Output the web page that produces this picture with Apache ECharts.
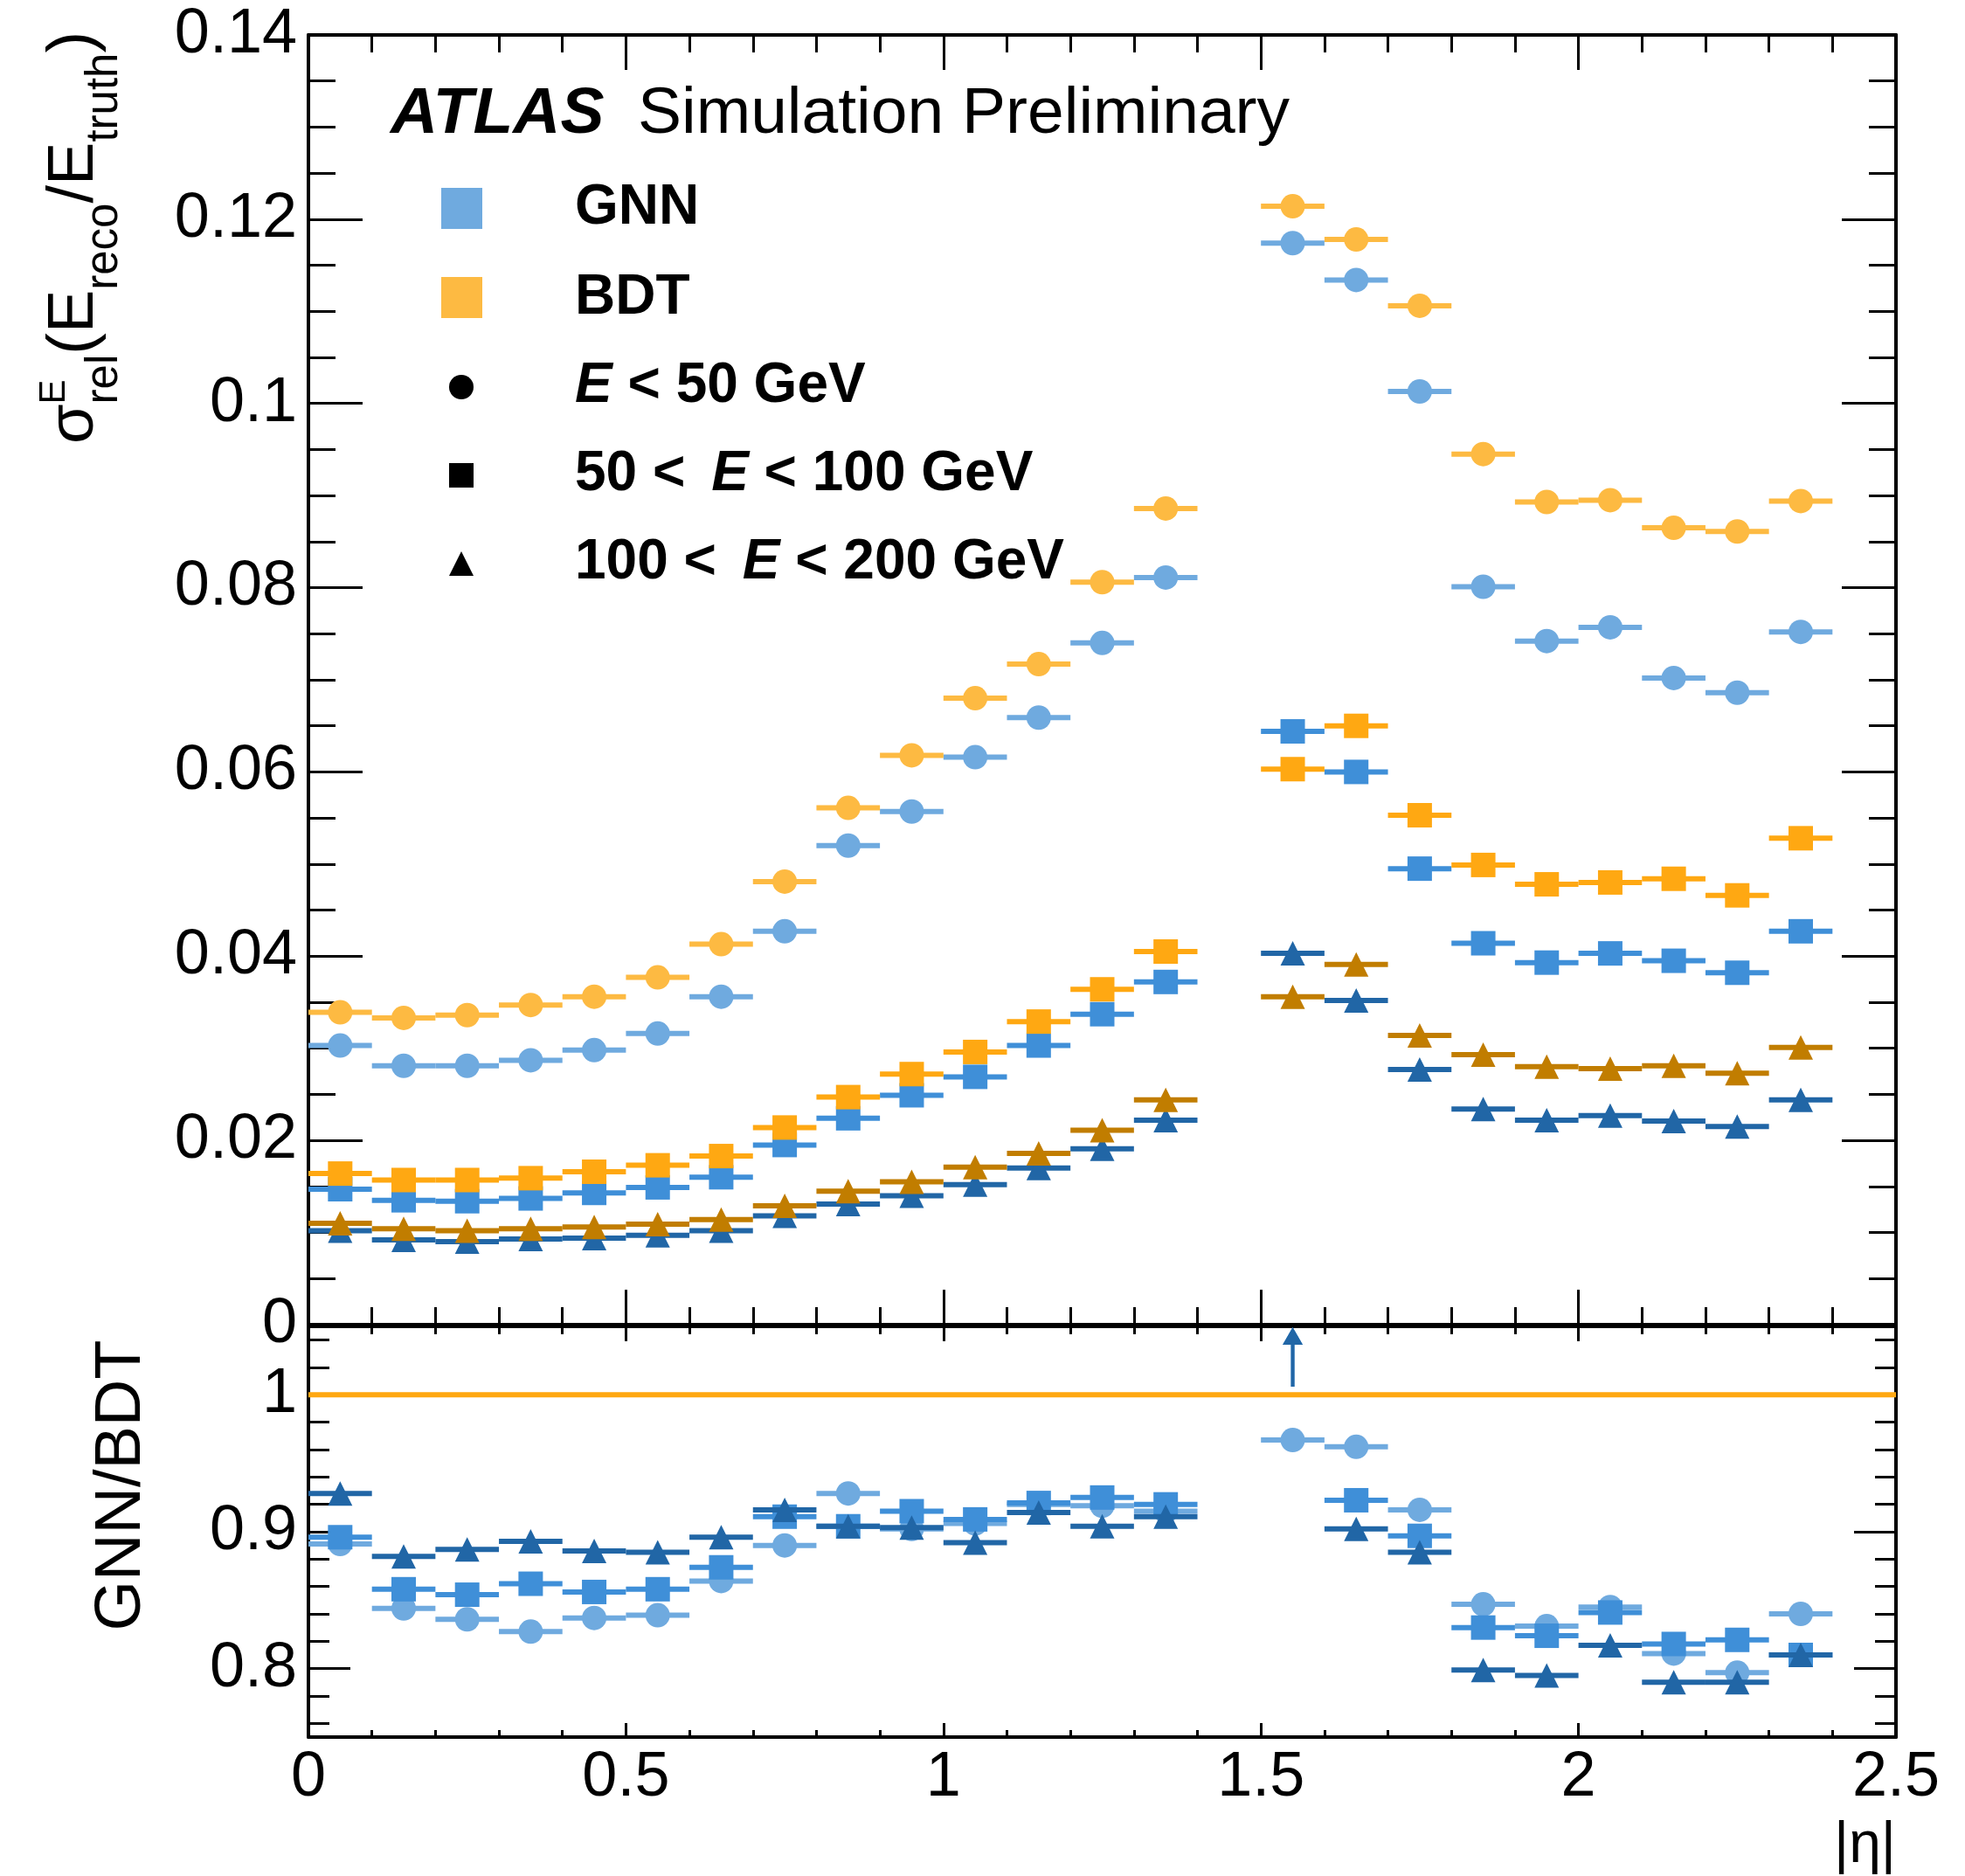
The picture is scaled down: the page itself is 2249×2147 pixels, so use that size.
<!DOCTYPE html>
<html>
<head>
<meta charset="utf-8">
<script src="https://cdn.jsdelivr.net/npm/echarts@6/dist/echarts.min.js"></script>
<style>
html, body { margin: 0; padding: 0; background: #ffffff; }
#chart { width: 2249px; height: 2147px; }
</style>
</head>
<body>
<div id="chart"></div>
<script>
// |eta| bin centres; bins are 0.1 wide and the 1.4-1.5 crack bin is empty
const etaCenters = [0.05, 0.15, 0.25, 0.35, 0.45, 0.55, 0.65, 0.75, 0.85, 0.95, 1.05, 1.15, 1.25, 1.35,
                    1.55, 1.65, 1.75, 1.85, 1.95, 2.05, 2.15, 2.25, 2.35];
const binHalfWidth = 0.05;

// relative energy resolution, E < 50 GeV
const gnnLowE = [0.0303, 0.0281, 0.0281, 0.0287, 0.0298, 0.0316, 0.0356, 0.0427, 0.0520, 0.0557, 0.0616, 0.0659, 0.0740, 0.0811,
                 0.1174, 0.1134, 0.1013, 0.0801, 0.0742, 0.0757, 0.0702, 0.0686, 0.0752];
const bdtLowE = [0.0339, 0.0333, 0.0336, 0.0347, 0.0356, 0.0377, 0.0413, 0.0481, 0.0561, 0.0618, 0.0680, 0.0717, 0.0806, 0.0886,
                 0.1214, 0.1178, 0.1106, 0.0945, 0.0893, 0.0895, 0.0865, 0.0861, 0.0894];
// 50 < E < 100 GeV
const gnnMidE = [0.0147, 0.0135, 0.0134, 0.0137, 0.0143, 0.0149, 0.0160, 0.0195, 0.0224, 0.0249, 0.0269, 0.0303, 0.0337, 0.0372,
                 0.0644, 0.0600, 0.0495, 0.0414, 0.0393, 0.0403, 0.0395, 0.0382, 0.0427];
const bdtMidE = [0.0164, 0.0157, 0.0157, 0.0159, 0.0166, 0.0173, 0.0183, 0.0214, 0.0247, 0.0272, 0.0296, 0.0329, 0.0364, 0.0405,
                 0.0603, 0.0650, 0.0553, 0.0499, 0.0478, 0.0480, 0.0484, 0.0466, 0.0528];
// 100 < E < 200 GeV
const gnnHighE = [0.0102, 0.0092, 0.0090, 0.0093, 0.0094, 0.0097, 0.0102, 0.0118, 0.0131, 0.0140, 0.0152, 0.0170, 0.0191, 0.0222,
                  0.0403, 0.0352, 0.0277, 0.0234, 0.0222, 0.0227, 0.0221, 0.0215, 0.0244];
const bdtHighE = [0.0110, 0.0104, 0.0102, 0.0104, 0.0106, 0.0109, 0.0114, 0.0129, 0.0145, 0.0155, 0.0171, 0.0186, 0.0211, 0.0244,
                  0.0356, 0.0391, 0.0314, 0.0293, 0.0280, 0.0278, 0.0281, 0.0273, 0.0301];

// GNN/BDT ratios (values above the panel range are shown as arrows)
const ratioLowE  = [0.891, 0.844, 0.836, 0.827, 0.837, 0.839, 0.864, 0.890, 0.928, 0.902, 0.906, 0.920, 0.919, 0.915,
                    0.967, 0.962, 0.916, 0.847, 0.831, 0.845, 0.811, 0.797, 0.840];
const ratioMidE  = [0.896, 0.858, 0.854, 0.862, 0.856, 0.858, 0.874, 0.911, 0.904, 0.915, 0.909, 0.921, 0.925, 0.920,
                    1.068, 0.923, 0.897, 0.830, 0.824, 0.841, 0.818, 0.821, 0.810];
const ratioHighE = [0.928, 0.882, 0.887, 0.893, 0.886, 0.885, 0.896, 0.916, 0.904, 0.903, 0.892, 0.914, 0.904, 0.911,
                    1.133, 0.902, 0.885, 0.799, 0.795, 0.817, 0.790, 0.790, 0.810];
const ratioReference = 1;

// axis ranges
const etaRange = [0, 2.5];
const resRange = [0, 0.14];
const ratioRange = [0.75, 1.05];

const COLORS = {
  gnnLow: '#6FAADF', gnnMid: '#3F8FD8', gnnHigh: '#2166A6',
  bdtLow: '#FDBA42', bdtMid: '#FFA812', bdtHigh: '#C17D00',
  ratioLine: '#FFA812'
};
const FONT = '"Liberation Sans", Arial, Helvetica, sans-serif';

function toPoints(values) {
  return etaCenters.map((e, i) => [e, values[i]]).filter(d => d[1] !== null && d[1] !== undefined);
}

// marker with a horizontal bar spanning the bin; arrow when the value exceeds yMax
function pointRenderer(shape, color, yMax) {
  return function (params, api) {
    const x = api.value(0), y = api.value(1);
    if (yMax !== undefined && y > yMax) {
      const top = api.coord([x, yMax]);
      const cx = top[0], ty = top[1] + 1;
      return {
        type: 'group',
        children: [
          { type: 'line', shape: { x1: cx, y1: ty + 16, x2: cx, y2: ty + 68 }, style: { stroke: color, lineWidth: 4 } },
          { type: 'polygon', shape: { points: [[cx, ty], [cx - 11.5, ty + 20], [cx + 11.5, ty + 20]] }, style: { fill: color } }
        ]
      };
    }
    const lo = api.coord([x - binHalfWidth, y]);
    const hi = api.coord([x + binHalfWidth, y]);
    const c = api.coord([x, y]);
    const s = 14;
    const children = [
      { type: 'line', shape: { x1: lo[0], y1: lo[1], x2: hi[0], y2: hi[1] }, style: { stroke: color, lineWidth: 6 } }
    ];
    if (shape === 'circle') {
      children.push({ type: 'circle', shape: { cx: c[0], cy: c[1], r: s }, style: { fill: color } });
    } else if (shape === 'square') {
      children.push({ type: 'rect', shape: { x: c[0] - s, y: c[1] - s, width: 2 * s, height: 2 * s }, style: { fill: color } });
    } else {
      children.push({ type: 'polygon', shape: { points: [[c[0], c[1] - s], [c[0] - s, c[1] + s], [c[0] + s, c[1] + s]] }, style: { fill: color } });
    }
    return { type: 'group', children: children };
  };
}

function pointSeries(values, shape, color, axisIdx, yMax) {
  return {
    type: 'custom',
    xAxisIndex: axisIdx, yAxisIndex: axisIdx,
    data: toPoints(values),
    encode: { x: 0, y: 1 },
    renderItem: pointRenderer(shape, color, yMax),
    silent: true,
    z: 3
  };
}

function xAxisCfg(grid, pos, showLabels, majorLen, minorLen) {
  return {
    type: 'value', gridIndex: grid, position: pos,
    min: etaRange[0], max: etaRange[1], interval: 0.5,
    axisLine: { show: true, onZero: false, lineStyle: { color: '#000', width: 4 } },
    axisTick: { show: true, inside: true, length: majorLen, lineStyle: { color: '#000', width: 3 } },
    minorTick: { show: true, splitNumber: 5, length: minorLen, lineStyle: { color: '#000', width: 3 } },
    splitLine: { show: false }, minorSplitLine: { show: false },
    axisLabel: { show: showLabels, fontSize: 72, fontFamily: FONT, color: '#000', margin: 11 }
  };
}

function yAxisCfg(grid, pos, showLabels, range, extra, majorLen, minorLen, minorSplit) {
  return Object.assign({
    type: 'value', gridIndex: grid, position: pos,
    min: range[0], max: range[1],
    axisLine: { show: true, onZero: false, lineStyle: { color: '#000', width: 4 } },
    axisTick: { show: true, inside: true, length: majorLen, lineStyle: { color: '#000', width: 3 } },
    minorTick: { show: true, splitNumber: minorSplit, length: minorLen, lineStyle: { color: '#000', width: 3 } },
    splitLine: { show: false }, minorSplitLine: { show: false },
    axisLabel: { show: showLabels, fontSize: 72, fontFamily: FONT, color: '#000', margin: 13 }
  }, extra);
}

// text helpers: place a text so that its alphabetic baseline sits at `baseline`
const measureCtx = document.createElement('canvas').getContext('2d');
function textWidth(str, font) { measureCtx.font = font; return measureCtx.measureText(str).width; }
function fontStr(size, weight, style) { return (style || 'normal') + ' ' + (weight || 'normal') + ' ' + size + 'px ' + FONT; }
function textEl(x, baseline, str, size, weight, style, extra) {
  return Object.assign({
    type: 'text', silent: true,
    style: {
      text: str, x: x, y: baseline - 0.3465 * size,
      font: fontStr(size, weight, style), fill: '#000',
      align: 'left', verticalAlign: 'middle'
    }
  }, extra || {});
}

// rotated y-axis title of the upper panel: sigma^E_rel(E_reco/E_truth)
function buildYTitle() {
  const parts = [
    { t: '\u03c3', size: 74, dy: 0 },
    { t: 'E', size: 42, dy: -34, stack: true },
    { t: 'rel', size: 51, dy: 27 },
    { t: '(', size: 74, dy: 0 },
    { t: 'E', size: 74, dy: 0 },
    { t: 'reco', size: 51, dy: 27 },
    { t: '/', size: 74, dy: 0 },
    { t: 'E', size: 74, dy: 0 },
    { t: 'truth', size: 51, dy: 27 },
    { t: ')', size: 74, dy: 0 }
  ];
  const children = [];
  let cursor = 0, stackWidth = 0;
  parts.forEach(p => {
    const f = fontStr(p.size);
    const w = textWidth(p.t, f);
    children.push({
      type: 'text', silent: true,
      style: { text: p.t, x: cursor, y: p.dy - 0.3465 * p.size, font: f, fill: '#000', align: 'left', verticalAlign: 'middle' }
    });
    if (p.stack) { stackWidth = w; }
    else { cursor += Math.max(w, stackWidth); stackWidth = 0; }
  });
  const total = cursor;
  const centreY = 272;
  return { type: 'group', x: 111, y: centreY + total / 2, rotation: Math.PI / 2, children: children, silent: true };
}

const legendX = 658;
const graphics = [
  // experiment label
  textEl(447, 157, 'ATLAS', 75, 'bold', 'italic'),
  textEl(730, 157, 'Simulation Preliminary', 75),
  // legend: methods
  { type: 'rect', silent: true, shape: { x: 505, y: 215, width: 47, height: 47 }, style: { fill: COLORS.gnnLow } },
  textEl(legendX, 261, 'GNN', 64, 'bold'),
  { type: 'rect', silent: true, shape: { x: 505, y: 317, width: 47, height: 47 }, style: { fill: COLORS.bdtLow } },
  textEl(legendX, 364, 'BDT', 64, 'bold'),
  // legend: energy ranges
  { type: 'circle', silent: true, shape: { cx: 528, cy: 443, r: 14 }, style: { fill: '#000' } },
  textEl(legendX, 465, '{i|E} < 50 GeV', 64, 'bold', null),
  { type: 'rect', silent: true, shape: { x: 514, y: 530, width: 28, height: 28 }, style: { fill: '#000' } },
  textEl(legendX, 566, '50 < {ip|E} < 100 GeV', 64, 'bold', null),
  { type: 'polygon', silent: true, shape: { points: [[528, 631], [514, 659], [542, 659]] }, style: { fill: '#000' } },
  textEl(legendX, 667, '100 < {ip|E} < 200 GeV', 64, 'bold', null),
  // axis titles
  buildYTitle(),
  {
    type: 'group', x: 165, y: 1700, rotation: Math.PI / 2, silent: true,
    children: [{ type: 'text', silent: true, style: { text: 'GNN/BDT', x: 0, y: -0.3465 * 74, font: fontStr(74), fill: '#000', align: 'center', verticalAlign: 'middle' } }]
  },
  {
    type: 'text', silent: true,
    style: { text: '|\u03b7|', x: 2170, y: 2136 - 0.3465 * 66, font: fontStr(66), fill: '#000', align: 'right', verticalAlign: 'middle' }
  }
];
// italic E inside the bold legend entries
graphics.forEach(g => {
  if (g.type === 'text' && /\{i/.test(g.style.text)) {
    g.style.rich = {
      i: { font: fontStr(64, 'bold', 'italic') },
      ip: { font: fontStr(64, 'bold', 'italic'), padding: [0, 0, 0, 12] }
    };
  }
});

const option = {
  animation: false,
  backgroundColor: '#ffffff',
  grid: [
    { left: 353, top: 40, width: 1817, height: 1476, containLabel: false, outerBoundsMode: 'none' },
    { left: 353, top: 1518, width: 1817, height: 470, containLabel: false, outerBoundsMode: 'none' }
  ],
  xAxis: [
    xAxisCfg(0, 'bottom', false, 40, 20),
    xAxisCfg(0, 'top', false, 40, 20),
    xAxisCfg(1, 'bottom', true, 16, 8),
    xAxisCfg(1, 'top', false, 17, 9)
  ],
  yAxis: [
    yAxisCfg(0, 'left', true, resRange, { interval: 0.02 }, 62, 31, 4),
    yAxisCfg(0, 'right', false, resRange, { interval: 0.02 }, 62, 31, 4),
    yAxisCfg(1, 'left', true, ratioRange, { splitNumber: 3, axisLabel: { show: true, fontSize: 72, fontFamily: FONT, color: '#000', margin: 13, showMinLabel: false, showMaxLabel: false } }, 48, 24, 5),
    yAxisCfg(1, 'right', false, ratioRange, { splitNumber: 3 }, 48, 24, 5)
  ],
  series: [
    pointSeries(gnnLowE, 'circle', COLORS.gnnLow, 0),
    pointSeries(bdtLowE, 'circle', COLORS.bdtLow, 0),
    pointSeries(gnnMidE, 'square', COLORS.gnnMid, 0),
    pointSeries(bdtMidE, 'square', COLORS.bdtMid, 0),
    pointSeries(gnnHighE, 'triangle', COLORS.gnnHigh, 0),
    pointSeries(bdtHighE, 'triangle', COLORS.bdtHigh, 0),
    {
      type: 'line', xAxisIndex: 2, yAxisIndex: 2, silent: true, z: 2,
      data: [[etaRange[0], ratioReference], [etaRange[1], ratioReference]],
      symbol: 'none', lineStyle: { color: COLORS.ratioLine, width: 6 }
    },
    pointSeries(ratioLowE, 'circle', COLORS.gnnLow, 2, ratioRange[1]),
    pointSeries(ratioMidE, 'square', COLORS.gnnMid, 2, ratioRange[1]),
    pointSeries(ratioHighE, 'triangle', COLORS.gnnHigh, 2, ratioRange[1])
  ],
  graphic: graphics
};

const chart = echarts.init(document.getElementById('chart'), null, { renderer: 'canvas', width: 2249, height: 2147 });
chart.setOption(option);
</script>
</body>
</html>
